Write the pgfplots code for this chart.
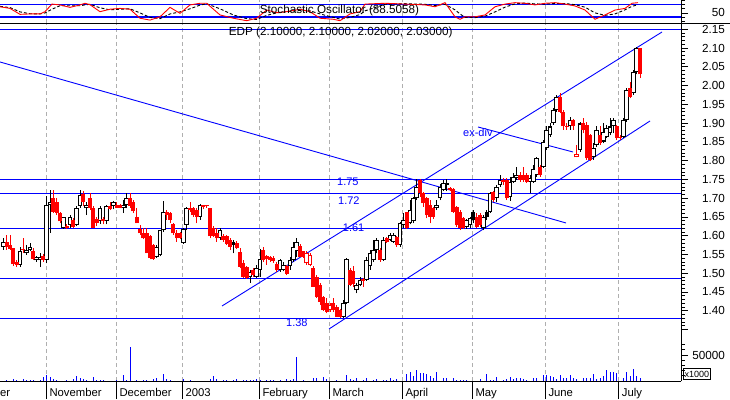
\documentclass[border=0pt]{standalone}
\usepackage{fontspec}
\setmainfont{Liberation Sans}
\usepackage{pgfplots}
\usepackage{pgfplotstable}
\pgfplotsset{compat=1.18}
\definecolor{cblue}{RGB}{0,0,255}
\definecolor{cred}{RGB}{255,0,0}
\definecolor{cgrid}{RGB}{175,175,175}

% d = trading day, o h l c, t: 0 hollow black, 1 red, 2 black filled, 3 red hollow
\pgfplotstableread{
d o h l c t
1 1.571 1.593 1.562 1.584 0
2 1.584 1.602 1.562 1.571 1
3 1.575 1.602 1.562 1.564 1
4 1.566 1.568 1.520 1.524 1
5 1.530 1.535 1.516 1.522 1
6 1.522 1.571 1.516 1.560 0
7 1.565 1.593 1.555 1.562 1
8 1.553 1.575 1.549 1.562 0
9 1.562 1.580 1.558 1.571 0
10 1.558 1.566 1.535 1.537 1
11 1.534 1.545 1.530 1.542 0
12 1.534 1.553 1.516 1.542 0
13 1.545 1.550 1.530 1.535 1
14 1.534 1.707 1.526 1.682 0
15 1.682 1.722 1.608 1.691 0
16 1.700 1.722 1.660 1.664 1
17 1.690 1.700 1.655 1.660 1
18 1.660 1.664 1.633 1.638 1
19 1.620 1.651 1.618 1.651 0
20 1.625 1.630 1.617 1.620 1
21 1.629 1.655 1.620 1.651 0
22 1.642 1.646 1.620 1.622 1
23 1.629 1.680 1.625 1.673 0
24 1.679 1.722 1.675 1.708 0
25 1.712 1.720 1.678 1.690 1
26 1.673 1.689 1.655 1.682 0
27 1.700 1.713 1.668 1.673 1
28 1.673 1.680 1.620 1.620 1
29 1.645 1.650 1.625 1.635 1
30 1.638 1.680 1.632 1.673 0
31 1.645 1.650 1.630 1.638 1
32 1.638 1.683 1.630 1.679 0
33 1.679 1.690 1.668 1.672 1
34 1.679 1.692 1.670 1.689 0
35 1.682 1.690 1.673 1.674 1
36 1.682 1.685 1.673 1.675 1
37 1.673 1.695 1.660 1.682 0
38 1.682 1.713 1.673 1.700 0
39 1.700 1.713 1.675 1.680 1
40 1.690 1.694 1.660 1.665 1
41 1.651 1.673 1.633 1.633 1
42 1.617 1.629 1.602 1.606 1
43 1.606 1.620 1.590 1.593 1
44 1.606 1.620 1.553 1.553 1
45 1.600 1.603 1.537 1.540 1
46 1.575 1.578 1.536 1.537 1
47 1.542 1.575 1.540 1.571 0
48 1.549 1.616 1.545 1.615 0
49 1.614 1.693 1.610 1.662 0
50 1.664 1.668 1.642 1.655 1
51 1.661 1.664 1.633 1.642 1
52 1.631 1.633 1.602 1.606 1
53 1.608 1.615 1.584 1.593 1
54 1.606 1.610 1.590 1.593 1
55 1.581 1.620 1.578 1.617 0
56 1.629 1.677 1.615 1.673 0
57 1.673 1.691 1.664 1.669 1
58 1.673 1.677 1.651 1.655 1
59 1.668 1.673 1.633 1.651 1
60 1.651 1.684 1.642 1.682 0
61 1.682 1.682 1.670 1.677 1
62 1.682 1.682 1.675 1.678 1
63 1.673 1.673 1.593 1.598 1
64 1.620 1.625 1.597 1.598 1
65 1.606 1.620 1.584 1.593 1
66 1.593 1.620 1.589 1.615 0
67 1.600 1.605 1.584 1.588 1
68 1.598 1.602 1.575 1.578 1
69 1.589 1.593 1.562 1.571 1
70 1.584 1.589 1.553 1.575 2
71 1.580 1.585 1.564 1.568 1
72 1.557 1.566 1.513 1.517 1
73 1.526 1.535 1.487 1.491 1
74 1.517 1.520 1.485 1.486 1
75 1.491 1.509 1.475 1.504 0
76 1.509 1.513 1.491 1.495 1
77 1.491 1.522 1.487 1.513 0
78 1.509 1.564 1.491 1.537 0
79 1.562 1.571 1.531 1.535 1
80 1.545 1.549 1.522 1.537 1
81 1.542 1.545 1.531 1.535 1
82 1.540 1.545 1.528 1.533 1
83 1.525 1.531 1.504 1.509 1
84 1.509 1.537 1.504 1.535 0
85 1.509 1.530 1.505 1.522 0
86 1.518 1.522 1.495 1.498 1
87 1.518 1.542 1.509 1.535 0
88 1.535 1.584 1.531 1.571 0
89 1.558 1.593 1.544 1.584 0
90 1.573 1.578 1.542 1.544 1
91 1.558 1.560 1.540 1.544 1
92 1.553 1.558 1.522 1.526 3
93 1.549 1.553 1.518 1.522 3
94 1.513 1.518 1.464 1.464 1
95 1.491 1.495 1.435 1.438 1
96 1.469 1.473 1.415 1.424 1
97 1.438 1.440 1.400 1.402 1
98 1.420 1.433 1.393 1.398 1
99 1.402 1.420 1.398 1.415 3
100 1.420 1.433 1.398 1.402 1
101 1.411 1.415 1.383 1.384 1
102 1.402 1.405 1.380 1.383 1
103 1.384 1.429 1.382 1.420 0
104 1.420 1.540 1.418 1.537 0
105 1.509 1.515 1.465 1.469 1
106 1.505 1.518 1.464 1.470 1
107 1.455 1.473 1.446 1.469 0
108 1.469 1.490 1.465 1.482 0
109 1.484 1.487 1.464 1.480 1
110 1.482 1.544 1.480 1.535 0
111 1.518 1.562 1.509 1.553 0
112 1.535 1.588 1.531 1.562 0
113 1.562 1.593 1.553 1.588 0
114 1.562 1.567 1.530 1.535 1
115 1.535 1.597 1.533 1.589 0
116 1.593 1.597 1.580 1.584 1
117 1.589 1.606 1.585 1.602 0
118 1.584 1.606 1.580 1.602 0
119 1.597 1.600 1.571 1.575 1
120 1.575 1.637 1.571 1.633 0
121 1.629 1.660 1.620 1.642 0
122 1.664 1.664 1.618 1.620 1
123 1.633 1.695 1.630 1.668 0
124 1.638 1.704 1.633 1.700 0
125 1.700 1.750 1.695 1.731 0
126 1.748 1.752 1.704 1.713 1
127 1.713 1.717 1.677 1.686 1
128 1.700 1.704 1.646 1.655 1
129 1.682 1.695 1.633 1.651 1
130 1.673 1.677 1.645 1.651 1
131 1.673 1.695 1.668 1.682 0
132 1.700 1.738 1.695 1.731 0
133 1.722 1.748 1.718 1.740 0
134 1.736 1.750 1.718 1.741 0
135 1.726 1.731 1.720 1.722 1
136 1.724 1.726 1.660 1.664 1
137 1.677 1.679 1.624 1.628 1
138 1.664 1.668 1.615 1.620 1
139 1.646 1.650 1.618 1.620 1
140 1.624 1.645 1.618 1.642 0
141 1.628 1.651 1.620 1.646 0
142 1.664 1.668 1.633 1.642 2
143 1.651 1.660 1.620 1.624 1
144 1.655 1.660 1.624 1.628 1
145 1.620 1.655 1.615 1.651 0
146 1.664 1.668 1.642 1.651 2
147 1.664 1.717 1.660 1.713 0
148 1.717 1.720 1.690 1.695 1
149 1.700 1.735 1.690 1.731 0
150 1.735 1.762 1.731 1.748 0
151 1.749 1.755 1.735 1.744 1
152 1.749 1.753 1.695 1.700 1
153 1.704 1.757 1.693 1.744 0
154 1.744 1.766 1.740 1.757 0
155 1.753 1.784 1.749 1.762 0
156 1.762 1.770 1.744 1.749 1
157 1.762 1.784 1.744 1.749 1
158 1.762 1.766 1.740 1.744 1
159 1.744 1.762 1.713 1.753 0
160 1.744 1.788 1.741 1.779 0
161 1.762 1.811 1.757 1.806 0
162 1.784 1.788 1.757 1.762 1
163 1.784 1.855 1.780 1.851 0
164 1.833 1.891 1.828 1.882 0
165 1.868 1.899 1.864 1.891 0
166 1.899 1.939 1.895 1.935 0
167 1.935 1.975 1.930 1.970 0
168 1.970 1.979 1.926 1.930 1
169 1.930 1.935 1.882 1.891 1
170 1.892 1.899 1.882 1.890 1
171 1.891 1.917 1.882 1.908 0
172 1.908 1.911 1.882 1.891 1
173 1.819 1.841 1.809 1.809 3
174 1.828 1.904 1.824 1.899 0
175 1.899 1.913 1.873 1.882 1
176 1.895 1.904 1.802 1.806 1
177 1.868 1.870 1.798 1.802 1
178 1.811 1.846 1.802 1.833 0
179 1.842 1.891 1.837 1.882 0
180 1.868 1.891 1.842 1.846 1
181 1.851 1.899 1.846 1.877 0
182 1.864 1.895 1.860 1.886 0
183 1.873 1.913 1.868 1.891 0
184 1.891 1.913 1.873 1.908 0
185 1.891 1.895 1.855 1.860 1
186 1.864 1.869 1.855 1.860 1
187 1.864 1.913 1.860 1.908 0
188 1.908 1.993 1.904 1.988 0
189 1.993 2.010 1.966 1.970 1
190 1.979 2.042 1.975 2.037 0
191 2.037 2.104 2.030 2.099 0
192 2.100 2.100 2.020 2.030 1
}\candles

\pgfplotstableread{
d v
2 1900
4 3800
5 1900
7 3800
8 1900
9 1900
10 1900
12 1900
13 8300
14 11500
15 8300
16 3800
17 1900
20 1900
22 3800
23 9600
24 6400
25 3800
26 1900
28 8300
29 1900
30 1900
31 1900
35 1900
37 11500
38 1900
39 65000
41 1900
43 1900
44 1900
46 3800
47 6400
49 13500
50 3800
51 1900
55 3800
57 1900
63 3800
64 9600
65 3800
67 1900
68 1900
70 1900
71 3800
73 1900
74 1900
75 1900
76 1900
77 3800
78 1900
80 1900
81 1900
82 1900
84 1900
86 3800
87 1900
88 3800
89 46000
91 1900
94 6400
95 6400
97 8300
98 3800
101 1900
104 11500
105 3800
106 1900
107 6400
109 1900
110 6400
112 1900
113 3800
115 1900
116 1900
117 6400
118 1900
119 3800
122 13500
123 16700
124 10200
125 21000
126 16000
127 16000
128 13500
129 10200
130 6400
131 17300
133 6400
134 6400
136 6400
137 1900
138 1900
139 1900
140 1900
144 3800
146 12800
147 1900
148 1900
149 8300
151 1900
152 3800
153 8300
154 3800
155 6400
156 6400
157 3800
158 1900
160 6400
161 6400
163 11500
164 11500
165 10200
166 8300
167 3800
168 11500
169 6400
170 6400
171 11500
172 6400
173 3800
175 6400
176 6400
177 6400
178 12800
179 3800
180 6400
181 10200
182 21000
183 16700
184 16700
185 14800
187 6400
188 16700
189 10200
190 23000
191 10200
192 6400
}\vol

\pgfplotstableread{
d k s
0 70 72
3 62 66
6 33 45
9 35 36
12 35 35
13.5 46 40
15.6 83 58
18 79 75
21 67 75
24 79 75
25.5 87 79
27 80 82
30 46 65
33 58 55
36 62 58
39 58 60
42 14 40
45 5 18
48 21 12
51 67 35
54 38 45
57 79 60
60 87 78
62 87 85
66 30 60
70 14 30
74 2 12
77 14 8
80 54 28
83 41 40
86 46 46
90 58 52
93 46 50
96 14 35
100 9 18
102 2 10
105 35 18
108 46 32
109.5 83 50
115.5 87 82
121.5 83 85
127.5 79 82
130.5 70 76
133.5 90 82
136.5 21 55
138 9 35
139.5 21 18
142.5 21 17
145.5 30 24
148.5 70 45
151.5 83 68
154.5 90 84
157.5 87 88
160.5 79 84
163.5 87 83
166.5 90 86
169.5 83 86
172.5 74 80
175.5 54 68
178.5 9 40
181.5 30 28
184.5 54 35
187.5 62 55
189.6 87 72
191.4 90 80
}\stoch

\pgfplotsset{
  panel/.style={
    scale only axis, width=681pt, xmin=0, xmax=204.3,
    axis x line*=bottom, axis y line*=right,
    x axis line style={draw=none},
    xtick={13.9,34.9,54.7,77.8,98.8,120.7,141.7,163.6,185.6},
    xticklabels={},
    xtick style={draw=none},
    xmajorgrids,
    major grid style={cgrid, dash pattern=on 4pt off 3pt, line width=0.9pt},
    y axis line style={black, line width=1pt},
    tick align=outside, major tick length=7pt, minor tick length=4pt,
    ytick style={black, line width=0.8pt},
    every tick label/.append style={font=\fontsize{11.7}{14}\selectfont},
    yticklabel style={anchor=east, inner sep=0pt, xshift=37pt},
    clip mode=individual,
  },
  wick/.style={draw=none, no markers, forget plot,
    error bars/y dir=plus, error bars/y explicit, error bars/error mark=none,
    error bars/error bar style={draw=#1, line width=1pt, solid}},
  body/.style 2 args={draw=none, no markers, forget plot,
    error bars/y dir=plus, error bars/y explicit, error bars/error mark=none,
    error bars/error bar style={draw=#1, line width=#2, solid}},
}

\newcommand\candletype[4]{%
  % #1 domain of type, #2 colour, #3 outer width, #4 hollow (1) or not
  \addplot[restrict expr to domain={\thisrow{t}}{#1}, wick=#2]
    table[x=d, y=l, y error plus expr={\thisrow{h}-\thisrow{l}}]{\candles};
  \addplot[restrict expr to domain={\thisrow{t}}{#1}, body={#2}{#3}]
    table[x=d, y expr={min(\thisrow{o},\thisrow{c})},
          y error plus expr={max(abs(\thisrow{o}-\thisrow{c}),0.003)}]{\candles};
  \ifnum#4=1
  \addplot[restrict expr to domain={\thisrow{t}}{#1}, body={white}{2.4pt}]
    table[x=d, y expr={min(\thisrow{o},\thisrow{c})+0.0027},
          y error plus expr={max(abs(\thisrow{o}-\thisrow{c})-0.0054,0)}]{\candles};
  \fi
}

\begin{document}
\begin{tikzpicture}
\useasboundingbox (0pt,0pt) rectangle (730pt,399pt);

% ---------- stochastic panel ----------
\begin{axis}[panel, at={(0pt,399pt)}, anchor=north west, height=23.3pt,
  ymin=-10.7, ymax=103, ytick={40}, yticklabels={50},
  minor ytick={0,20,60,80,100}]
  \addplot[cblue, line width=1.2pt, forget plot] coordinates {(0,80) (204.3,80)};
  \addplot[cblue, line width=1.2pt, forget plot] coordinates {(0,20) (204.3,20)};
  \addplot[black, line width=0.9pt, dash pattern=on 3pt off 2pt, mark=none] table[x=d, y=s]{\stoch};
  \addplot[cred, line width=0.9pt, mark=none] table[x=d, y=k]{\stoch};
\end{axis}

% ---------- price panel ----------
\begin{axis}[panel, at={(0pt,375.7pt)}, anchor=north west, height=316.7pt,
  ymin=1.3221, ymax=2.166,
  ytick={1.35,1.40,1.45,1.50,1.55,1.60,1.65,1.70,1.75,1.80,1.85,1.90,1.95,2.00,2.05,2.10,2.15},
  yticklabels={,1.40,1.45,1.50,1.55,1.60,1.65,1.70,1.75,1.80,1.85,1.90,1.95,2.00,2.05,2.10,2.15},
  minor y tick num=4]
  % horizontal support / resistance lines
  \addplot[cblue, line width=1.2pt, forget plot] coordinates {(0,2.15) (204.3,2.15)};
  \addplot[cblue, line width=1.2pt, forget plot] coordinates {(0,1.75) (204.3,1.75)};
  \addplot[cblue, line width=1.2pt, forget plot] coordinates {(0,1.713) (204.3,1.713)};
  \addplot[cblue, line width=1.2pt, forget plot] coordinates {(0,1.620) (204.3,1.620)};
  \addplot[cblue, line width=1.2pt, forget plot] coordinates {(0,1.485) (204.3,1.485)};
  \addplot[cblue, line width=1.2pt, forget plot] coordinates {(0,1.380) (204.3,1.380)};
  % trend lines
  \addplot[cblue, line width=0.9pt, forget plot] coordinates {(0,2.0629) (169.8,1.6339)};
  \addplot[cblue, line width=0.9pt, forget plot] coordinates {(66.6,1.4127) (198.6,2.1428)};
  \addplot[cblue, line width=0.9pt, forget plot] coordinates {(98.7,1.3514) (195,1.9057)};
  \addplot[cblue, line width=0.9pt, forget plot] coordinates {(143.4,1.8897) (171.9,1.8231)};
  % candles
  \candletype{-0.5:0.5}{black}{4.6pt}{1}
  \candletype{1.5:2.5}{black}{4pt}{0}
  \candletype{0.5:1.5}{cred}{4pt}{0}
  \candletype{2.5:3.5}{cred}{4.6pt}{1}
\end{axis}

% ---------- volume panel ----------
\begin{axis}[panel, at={(0pt,18pt)}, anchor=south west, height=41pt,
  ymin=0, ymax=78843, ytick=\empty,
  x axis line style={draw=black, line width=1pt},
  xtick style={draw=black, line width=1pt},
  major tick length=18pt]
  \addplot[ycomb, cblue, line width=1pt, mark=none] table[x=d, y=v]{\vol};
\end{axis}
\begin{axis}[scale only axis, width=681pt, height=41pt, at={(0pt,18pt)}, anchor=south west,
  xmin=0, xmax=204.3, ymin=0, ymax=78843,
  axis x line=none, axis y line*=right,
  y axis line style={black, line width=1pt},
  tick align=outside, major tick length=7pt, minor tick length=4pt,
  ytick style={black, line width=0.8pt},
  scaled y ticks=false,
  ytick={50000}, yticklabels={50000},
  minor ytick={10000,20000,30000,40000,60000,70000},
  every tick label/.append style={font=\fontsize{11.7}{14}\selectfont},
  yticklabel style={anchor=east, inner sep=0pt, xshift=37pt}]
\end{axis}

% panel separator
\draw[black, line width=1pt] (0pt,375.7pt) -- (730pt,375.7pt);

% titles
\node[anchor=base, inner sep=0pt, font=\fontsize{11.7}{14}\selectfont] at (339.5pt,385.5pt) {Stochastic Oscillator (88.5058)};
\node[anchor=base, inner sep=0pt, font=\fontsize{11.7}{14}\selectfont] at (340.7pt,363.5pt) {EDP (2.10000, 2.10000, 2.02000, 2.03000)};

% line labels
\begin{scope}[every node/.style={anchor=base west, inner sep=0pt, text=cblue, font=\fontsize{11}{13}\selectfont}]
\node at (337pt,213pt) {1.75};
\node at (338pt,194pt) {1.72};
\node at (342.7pt,167.3pt) {1.61};
\node at (286pt,73pt) {1.38};
\node at (463pt,262pt) {ex-div};
\end{scope}

% month labels
\begin{scope}[every node/.style={anchor=base west, inner sep=0pt, font=\fontsize{11.3}{13}\selectfont}]
\node at (-30.2pt,3pt) {October};
\node at (49.3pt,3pt) {November};
\node at (119.3pt,3pt) {December};
\node at (185.3pt,3pt) {2003};
\node at (262.3pt,3pt) {February};
\node at (332.3pt,3pt) {March};
\node at (405.3pt,3pt) {April};
\node at (475.3pt,3pt) {May};
\node at (548.3pt,3pt) {June};
\node at (621.7pt,3pt) {July};
\end{scope}

% x1000 box
\node[draw=black, line width=0.8pt, anchor=south west, inner sep=0.8pt, minimum width=27pt, minimum height=11pt,
      font=\fontsize{9}{10}\selectfont] at (683pt,19pt) {x1000};
\end{tikzpicture}
\end{document}
